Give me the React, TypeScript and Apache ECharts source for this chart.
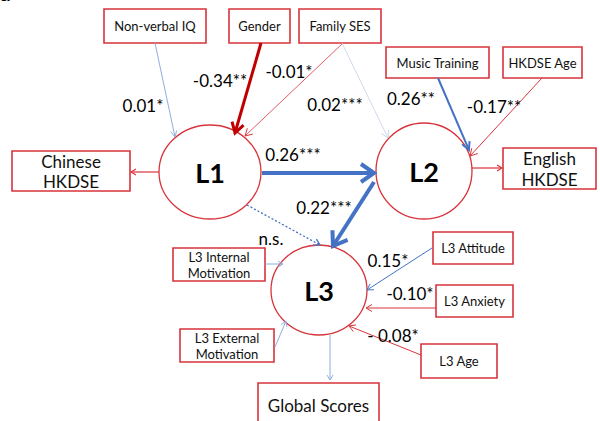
import React, { useEffect, useRef } from "react";
import * as echarts from "echarts";

// Observed variables (boxes) and latent factors (circles)
const observed = [
  "Non-verbal IQ",
  "Gender",
  "Family SES",
  "Music Training",
  "HKDSE Age",
  "Chinese\nHKDSE",
  "English\nHKDSE",
  "L3 Internal\nMotivation",
  "L3 External\nMotivation",
  "L3 Attitude",
  "L3 Anxiety",
  "L3 Age",
  "Global Scores",
];
const latent = ["L1", "L2", "L3"];

// Paths of the model: source, target and the estimate printed beside each
const pathFrom = [
  "Non-verbal IQ", "Gender", "Family SES", "Family SES", "Music Training", "HKDSE Age",
  "L1", "L2", "L1", "L1", "L2",
  "L3 Internal\nMotivation", "L3 External\nMotivation", "L3",
  "L3 Attitude", "L3 Anxiety", "L3 Age",
];
const pathTo = [
  "L1", "L1", "L1", "L2", "L2", "L2",
  "L2", "L3", "L3", "Chinese\nHKDSE", "English\nHKDSE",
  "L3", "L3", "Global Scores",
  "L3", "L3", "L3",
];
const pathLabels = [
  "0.01*", "-0.34**", "-0.01*", "0.02***", "0.26**", "-0.17**",
  "0.26***", "0.22***", "n.s.", "", "",
  "", "", "",
  "0.15*", "-0.10*", "- 0.08*",
];

// ---- layout & styling ----
const FONT = "Lato, 'Noto Sans', sans-serif";
const RED = "#d8343c";
const DARK_RED = "#c00000";
const BLUE = "#4472c4";
const LIGHT_BLUE = "#8eaee0";
const PALE = "#c9d5ea";

// x, y, width, height, fontSize, lineHeight
const boxLayout: Record<string, number[]> = {
  "Non-verbal IQ": [104, 9, 102, 34, 13, 16],
  Gender: [229, 9, 61, 34, 13, 16],
  "Family SES": [299, 9, 82, 34, 13, 16],
  "Music Training": [386, 47, 103, 31, 13, 16],
  "HKDSE Age": [503, 47, 79, 31, 13, 16],
  "Chinese\nHKDSE": [12, 151, 118, 40, 17, 20],
  "English\nHKDSE": [503, 148, 93, 41, 17, 21],
  "L3 Internal\nMotivation": [173, 248, 92, 33, 13, 16],
  "L3 External\nMotivation": [180, 329, 94, 33, 13, 16],
  "L3 Attitude": [433, 232, 80, 32, 13, 16],
  "L3 Anxiety": [436, 285, 77, 32, 13, 16],
  "L3 Age": [421, 344, 76, 34, 13, 16],
  "Global Scores": [258, 383, 121, 44, 17, 20],
};

// cx, cy, rx, ry
const circleLayout: Record<string, number[]> = {
  L1: [210, 172, 51, 47],
  L2: [424, 171, 48, 48],
  L3: [319, 290, 48, 45],
};

// x1, y1, x2, y2 per path (in path order)
const pathGeometry = [
  [155, 43, 175, 137],
  [261, 43, 235, 133],
  [343, 43, 245, 136],
  [342, 43, 388, 138],
  [438, 78, 469, 150],
  [542, 78, 470, 156],
  [262, 173, 374, 173],
  [374, 182, 333, 246],
  [247, 205, 320, 245],
  [159, 172, 131, 172],
  [472, 168, 502, 168],
  [265, 264, 283, 264],
  [275, 347, 286, 321],
  [330, 335, 330, 380],
  [432, 248, 367, 290],
  [436, 308, 366, 308],
  [421, 355, 349, 326],
];

// colour, line width, head length, head half-width, dashed
const pathStyle: [string, number, number, number, boolean][] = [
  [LIGHT_BLUE, 1, 6, 3, false],
  [DARK_RED, 3, 10, 6, false],
  [RED, 0.8, 7, 4, false],
  [PALE, 0.9, 7, 4, false],
  [BLUE, 2, 8, 4, false],
  [RED, 1, 7, 4, false],
  [BLUE, 4, 13, 9, false],
  [BLUE, 4, 13, 9, false],
  [BLUE, 1.3, 6, 3.5, true],
  [RED, 1.2, 5, 3, false],
  [RED, 1.2, 5, 3, false],
  [LIGHT_BLUE, 1, 5, 3, false],
  [LIGHT_BLUE, 1, 5, 3, false],
  [LIGHT_BLUE, 1, 5, 3, false],
  [BLUE, 1, 6, 3.5, false],
  [RED, 1, 6, 3.5, false],
  [RED, 1, 6, 3.5, false],
];

// centre of each estimate label
const labelPos = [
  [143, 105], [220, 80], [289, 71], [335, 104], [411, 98], [494, 106],
  [293, 154], [324, 207], [271, 238], [0, 0], [0, 0],
  [0, 0], [0, 0], [0, 0],
  [388, 260], [410, 293], [393, 335],
];

function buildGraphics() {
  const els: any[] = [];

  // panel letter, mostly above the top edge
  els.push({
    type: "text",
    x: 0,
    y: 3,
    style: { text: "a", font: `bold 21px ${FONT}`, fill: "#000", textVerticalAlign: "bottom" },
  });

  observed.forEach((name) => {
    const [x, y, w, h, fs, lh] = boxLayout[name];
    els.push({
      type: "rect",
      shape: { x, y, width: w, height: h },
      style: { fill: "#fff", stroke: RED, lineWidth: 1.6 },
    });
    els.push({
      type: "text",
      x: x + w / 2,
      y: y + h / 2,
      style: {
        text: name,
        font: `${fs}px ${FONT}`,
        lineHeight: lh,
        fill: "#111",
        align: "center",
        verticalAlign: "middle",
      },
    });
  });

  latent.forEach((name) => {
    const [cx, cy, rx, ry] = circleLayout[name];
    els.push({
      type: "ellipse",
      shape: { cx, cy, rx, ry },
      style: { fill: "#fff", stroke: RED, lineWidth: 1.3 },
    });
    els.push({
      type: "text",
      x: cx,
      y: cy,
      style: {
        text: name,
        font: `bold 27px ${FONT}`,
        fill: "#000",
        align: "center",
        verticalAlign: "middle",
      },
    });
  });

  pathFrom.forEach((_, i) => {
    const [x1, y1, x2, y2] = pathGeometry[i];
    const [color, lw, hl, hw, dashed] = pathStyle[i];
    const dx = x2 - x1;
    const dy = y2 - y1;
    const len = Math.hypot(dx, dy);
    const ux = dx / len;
    const uy = dy / len;
    const nx = -uy;
    const ny = ux;
    const back = lw * 0.6;
    els.push({
      type: "line",
      shape: { x1, y1, x2: x2 - ux * back, y2: y2 - uy * back },
      style: { stroke: color, lineWidth: lw, lineDash: dashed ? [2, 2] : null },
    });
    els.push({
      type: "polyline",
      shape: {
        points: [
          [x2 - ux * hl + nx * hw, y2 - uy * hl + ny * hw],
          [x2, y2],
          [x2 - ux * hl - nx * hw, y2 - uy * hl - ny * hw],
        ],
      },
      style: { stroke: color, lineWidth: Math.max(lw, 1), fill: null, lineJoin: "miter", lineCap: "butt" },
    });
    if (pathLabels[i]) {
      const [lx, ly] = labelPos[i];
      els.push({
        type: "text",
        x: lx,
        y: ly,
        style: {
          text: pathLabels[i],
          font: `17px ${FONT}`,
          fill: "#000",
          align: "center",
          verticalAlign: "middle",
        },
      });
    }
  });

  return els;
}

export default function App() {
  const ref = useRef<HTMLDivElement>(null);
  useEffect(() => {
    if (!ref.current) return;
    const chart = echarts.init(ref.current, null, { renderer: "svg" });
    chart.setOption({
      animation: false,
      backgroundColor: "#fff",
      graphic: { elements: buildGraphics() },
    });
    return () => chart.dispose();
  }, []);
  return (
    <div
      ref={ref}
      style={{ position: "fixed", left: 0, top: 0, width: 600, height: 421 }}
    />
  );
}
